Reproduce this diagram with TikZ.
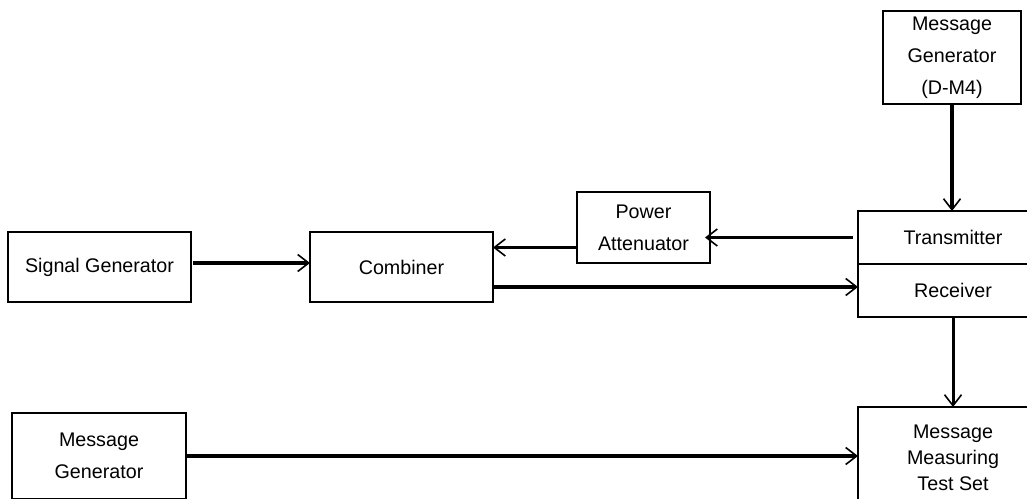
\documentclass[tikz,border=0pt]{standalone}
\usepackage{fontspec}
\setmainfont{Liberation Sans}
\usetikzlibrary{positioning, arrows.meta}

\begin{document}
\begin{tikzpicture}[
        x=1pt, y=1pt,
        font=\fontsize{19.7}{32}\selectfont,
        node distance=90pt and 119pt,
        box/.style={rectangle, draw=black, line width=1.6pt, inner sep=0pt, outer sep=0pt, align=center},
        arrow/.style={-{Straight Barb[length=11pt, width=17pt, line width=1.6pt]}, line width=3.2pt},
        thinarrow/.style={arrow, line width=2.2pt}
        ]
        \useasboundingbox (0,0) rectangle (1027,498);

        \node[box, minimum width=183pt, minimum height=70pt] (siggen) at (99.5,231) {Signal Generator};
        \node[box, minimum width=183pt, minimum height=70pt, right=of siggen] (comb) {Combiner};
        \node[box, minimum width=133pt, minimum height=71pt] (atten) at (643.5,270.5) {Power\\Attenuator};
        \node[box, minimum width=138pt, minimum height=93pt] (msggen) at (952,440.5) {Message\\Generator\\(D-M4)};
        \node[box, minimum width=190pt, minimum height=53pt] (trans) at (953,260.5) {Transmitter};
        \node[box, minimum width=190pt, minimum height=53pt, below=0pt of trans] (recv) {Receiver};
        \node[box, minimum width=190pt, minimum height=102pt, below=of recv,
              font=\fontsize{19.7}{26}\selectfont] (measure) {Message\\Measuring\\Test Set};
        \node[box, minimum width=174pt, minimum height=86pt] (msgsrc) at (99,42) {Message\\Generator};

        \draw[arrow] ([shift={(2pt,4pt)}]siggen.east) -- ([yshift=4pt]comb.west);
        \draw[thinarrow] ([xshift=-5pt]trans.west) -- ([xshift=-5pt]trans.west -| atten.east);
        \draw[arrow] ([yshift=-20pt]atten.west) -- ([yshift=-20pt]atten.west -| comb.east);
        \draw[arrow, line width=3.6pt] ([yshift=-20pt]comb.east) -- ([yshift=-20pt]comb.east -| recv.west);
        \draw[arrow] (msggen.south) -- (msggen.south |- trans.north);
        \draw[arrow, line width=3pt] (recv.south) -- (measure.north);
        \draw[arrow, line width=4pt] (msgsrc.east) -- (msgsrc.east -| measure.west);
    \end{tikzpicture}
\end{document}
